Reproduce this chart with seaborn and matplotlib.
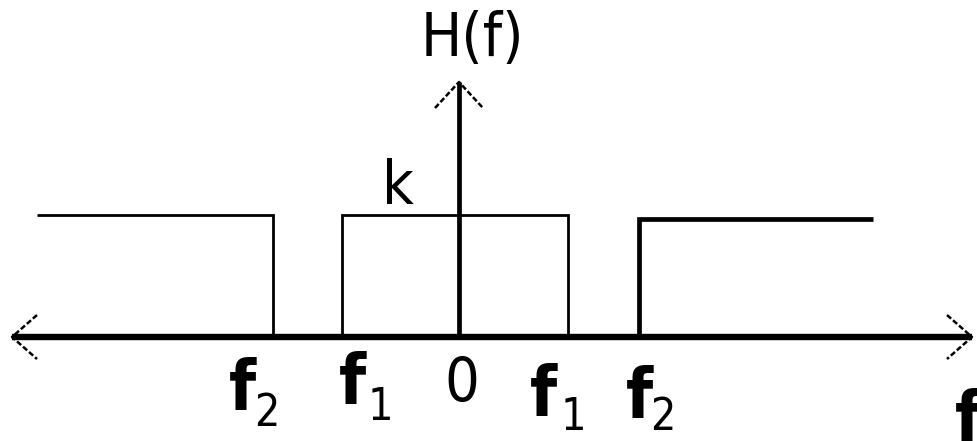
import matplotlib
matplotlib.use("Agg")
import matplotlib.pyplot as plt
import seaborn as sns
import pandas as pd

# ---- data (frequency positions in drawing units, origin at f = 0) ----
band_left_f = [-422, -186, -186]          # passband  (-inf .. -f2)
band_left_h = [122, 122, 0]
band_mid_f = [-117, -117, 109, 109]        # passband  (-f1 .. f1)
band_mid_h = [0, 122, 122, 0]
band_right_f = [180, 180, 414]             # passband  (f2 .. inf)
band_right_h = [0, 118, 118]

tick_names = ["f", "f", "0", "f", "f"]
tick_subs = ["2", "1", "", "1", "2"]
tick_pos = [-186, -117, 0, 109, 180]

sns.set_theme(style="white")
plt.rcParams["font.family"] = ["DejaVu Sans"]
plt.rcParams["text.color"] = "black"

W, H = 978, 441
fig = plt.figure(figsize=(W / 100, H / 100), dpi=100)
ax = fig.add_axes([0, 0, 1, 1])
X0, Y0 = 459, 337               # pixel position of origin
ax.set_xlim(-X0, W - X0)
ax.set_ylim(Y0 - H, Y0)
ax.set_axis_off()

def seg(xs, ys, lw):
    df = pd.DataFrame({"f": xs, "h": ys})
    sns.lineplot(data=df, x="f", y="h", sort=False, estimator=None,
                 color="black", lw=lw, ax=ax, solid_capstyle="butt",
                 solid_joinstyle="miter")

seg(band_left_f, band_left_h, 2.0)
seg(band_mid_f, band_mid_h, 2.0)
seg(band_right_f, band_right_h, 3.4)

# frequency axis (double arrow)
xl, xr = 12 - X0, 972 - X0
ax.plot([xl, xr], [0, 0], color="black", lw=4.6, solid_capstyle="butt")
head = dict(color="black", lw=1.8, ls=(0, (2.2, 1.0)))
ax.plot([xl + 25, xl, xl + 25], [22, 0, -22], **head)
ax.plot([xr - 25, xr, xr - 25], [22, 0, -22], **head)

# H(f) axis (up arrow)
yt = Y0 - 82
ax.plot([0, 0], [0, yt], color="black", lw=3.4, solid_capstyle="butt")
ax.plot([-24, 0, 24], [yt - 26, yt, yt - 26], **head)

# labels
txt = dict(color="black", fontstretch="condensed", ha="center", va="center")
ax.text(472 - X0, Y0 - 40, "H(f)", fontsize=44, **txt)
ax.text(398 - X0, Y0 - 187, "k", fontsize=44, **txt)

f_dx = [-31, 10, 3, -25, 0]
f_y = [390, 384, 385, 397, 398]
sub_dx = [25, 28, 0, 30, 24]
sub_y = [414, 408, 0, 418, 417]
for name, sub, x, fdx, fy, sdx, sy in zip(tick_names, tick_subs, tick_pos,
                                          f_dx, f_y, sub_dx, sub_y):
    ax.text(x + fdx, Y0 - fy, name, fontsize=50 if name == "f" else 44,
            fontweight="bold" if name == "f" else "normal", **txt)
    if sub:
        ax.text(x + fdx + sdx, Y0 - sy, sub, fontsize=32, **txt)

ax.text(968 - X0, Y0 - 388, "f", fontsize=50, fontweight="bold",
        color="black", fontstretch="condensed", ha="center", va="top")

fig.savefig("out.png", dpi=100)
